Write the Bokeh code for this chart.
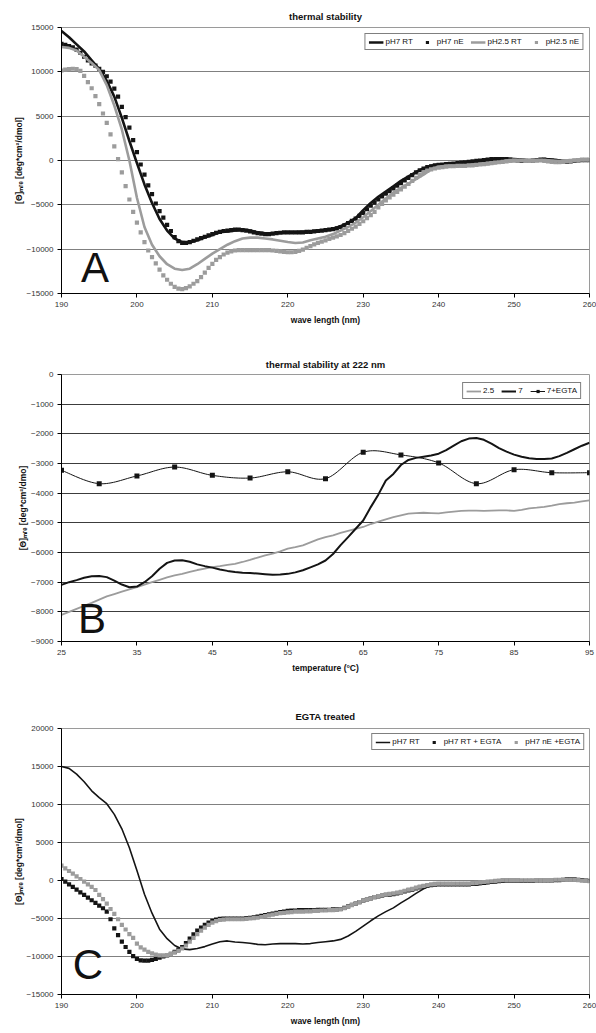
import numpy as np
from bokeh.plotting import figure
from bokeh.models import Range1d, FixedTicker, Label, Legend, LegendItem
from bokeh.layouts import column
from bokeh.embed import file_html
from bokeh.resources import INLINE

# ---------------- data ----------------
# Panel A: thermal stability (wavelength scans)
wl_1nm = list(range(190, 261))                      # 190..260 nm, 1 nm step
wl_half = [190 + 0.5 * i for i in range(141)]       # 190..260 nm, 0.5 nm step

A_pH7_RT = [
    14600, 13900, 13100, 12300, 11300, 10300, 9000, 7200, 4800, 2200,
    -300, -2700, -4800, -6600, -7900, -8800, -9200, -9250, -9000, -8700,
    -8400, -8100, -8000, -7900, -7800, -7900, -8100, -8200, -8200, -8150,
    -8100, -8100, -8050, -8000, -7900, -7850, -7700, -7400, -7000, -6500,
    -5600, -4800, -4100, -3500, -2900, -2300, -1800, -1300, -900, -600,
    -450, -400, -350, -300, -200, -100, 0, 100, 150, 200,
    150, 100, 0, 100, 150, 100, 0, -100, 0, 100,
    100]
A_pH7_nE = [
    13150, 13050, 12900, 12750, 12500, 12150, 11700, 11300, 10950, 10700,
    10350, 10000, 9500, 8900, 8100, 7200, 6050, 4900, 3700, 2300,
    950, -450, -1600, -2800, -3800, -4850, -5700, -6450, -7250, -7950,
    -8650, -9100, -9300, -9300, -9200, -9050, -8900, -8750, -8600, -8450,
    -8300, -8150, -8050, -7950, -7900, -7850, -7800, -7800, -7850, -7900,
    -8000, -8100, -8200, -8250, -8300, -8300, -8250, -8200, -8150, -8100,
    -8100, -8100, -8100, -8100, -8100, -8050, -8050, -8000, -7950, -7900,
    -7850, -7800, -7750, -7650, -7500, -7300, -7050, -6800, -6550, -6250,
    -5900, -5500, -5100, -4750, -4400, -4050, -3750, -3450, -3150, -2850,
    -2550, -2250, -1950, -1650, -1350, -1100, -900, -750, -650, -550,
    -500, -450, -400, -380, -350, -300, -250, -200, -150, -100,
    -50, 0, 50, 100, 150, 150, 150, 150, 150, 100,
    50, 0, -50, -50, -50, 0, 50, 100, 100, 50,
    0, -50, -100, -150, -150, -100, -50, 0, 50, 50,
    50]
A_pH25_RT = [
    12800, 12700, 12400, 11700, 11000, 10200, 8500, 6200, 3500, 0,
    -4200, -7500, -9500, -10800, -11700, -12200, -12350, -12200, -11700, -11100,
    -10500, -10000, -9500, -9100, -8800, -8700, -8700, -8800, -8900, -9050,
    -9200, -9300, -9250, -9000, -8800, -8600, -8300, -7900, -7500, -7000,
    -6400, -5700, -5000, -4300, -3600, -3100, -2600, -2100, -1600, -1000,
    -700, -600, -600, -600, -550, -500, -450, -350, -200, 0,
    50, 0, -50, 0, 50, 0, -50, 0, 50, 100,
    100]
A_pH25_nE = [
    10150, 10250, 10300, 10350, 10300, 10100, 9550, 8850, 8150, 7250,
    6350, 5300, 4250, 2950, 1600, 150, -1350, -2900, -4400, -5800,
    -7000, -8100, -9200, -10150, -10900, -11600, -12300, -12950, -13450, -13900,
    -14250, -14450, -14500, -14400, -14200, -13900, -13600, -13150, -12650, -12100,
    -11650, -11200, -10900, -10600, -10400, -10250, -10150, -10100, -10100, -10100,
    -10100, -10100, -10100, -10100, -10100, -10100, -10150, -10200, -10250, -10300,
    -10350, -10350, -10300, -10200, -10050, -9850, -9650, -9450, -9300, -9150,
    -9000, -8850, -8700, -8550, -8400, -8200, -7950, -7700, -7450, -7150,
    -6850, -6500, -6150, -5800, -5300, -4900, -4500, -4150, -3850, -3550,
    -3250, -2950, -2650, -2300, -1950, -1650, -1350, -1150, -1000, -900,
    -800, -750, -700, -650, -650, -600, -600, -600, -550, -550,
    -500, -450, -400, -350, -300, -250, -200, -150, -100, -50,
    0, 0, 0, -50, -50, 0, 0, 0, -50, -100,
    -150, -200, -200, -150, -100, -50, 0, 50, 100, 100,
    100]

# Panel B: thermal stability at 222 nm
temp_1 = list(range(25, 96))
temp_5 = list(range(25, 96, 5))
B_pH25 = [
    -8100, -8000, -7900, -7800, -7700, -7590, -7480, -7400, -7320, -7240,
    -7170, -7080, -7000, -6920, -6840, -6770, -6720, -6650, -6590, -6540,
    -6490, -6460, -6420, -6380, -6320, -6250, -6170, -6100, -6040, -5960,
    -5870, -5820, -5760, -5660, -5560, -5480, -5420, -5340, -5270, -5200,
    -5140, -5040, -4960, -4880, -4810, -4750, -4690, -4670, -4660, -4670,
    -4680, -4650, -4620, -4600, -4590, -4590, -4600, -4590, -4580, -4580,
    -4600, -4560, -4510, -4490, -4460, -4420, -4370, -4340, -4320, -4280,
    -4240]
B_pH7 = [
    -7090, -7000, -6930, -6850, -6800, -6790, -6830, -6950, -7080, -7170,
    -7150, -7000, -6800, -6550, -6350, -6270, -6260, -6310, -6400, -6460,
    -6510, -6570, -6620, -6660, -6680, -6690, -6710, -6730, -6750, -6740,
    -6720, -6670, -6600, -6500, -6400, -6270, -6050, -5750, -5480, -5200,
    -4920, -4470, -4050, -3570, -3350, -3050, -2880, -2810, -2770, -2730,
    -2670, -2550, -2400, -2250, -2160, -2140, -2200, -2330, -2480, -2600,
    -2700, -2770, -2820, -2850, -2850, -2830, -2750, -2640, -2520, -2400,
    -2300]
B_pH7_EGTA = [-3230, -3680, -3420, -3120, -3400, -3490, -3280, -3510,
              -2620, -2710, -2980, -3680, -3210, -3310, -3310]

# Panel C: EGTA treated
C_pH7_RT = [
    15000, 14750, 14000, 13000, 11800, 10900, 10100, 8700, 6800, 4300,
    1300, -1800, -4300, -6400, -7650, -8550, -9000, -9100, -8950, -8700,
    -8350, -8050, -7950, -8100, -8150, -8250, -8400, -8450, -8350, -8300,
    -8300, -8300, -8350, -8300, -8150, -8050, -7950, -7750, -7300, -6700,
    -6000, -5300, -4650, -4100, -3600, -2950, -2350, -1700, -1100, -650,
    -450, -450, -500, -550, -600, -600, -450, -300, -200, -150,
    -150, -150, -100, -100, -50, 0, 100, 200, 200, 150,
    0]
C_pH7_RT_EGTA = [
    200, -150, -500, -850, -1200, -1550, -1900, -2250, -2600, -2950,
    -3300, -3650, -4100, -5100, -6300, -7200, -8050, -8750, -9400, -9950,
    -10300, -10500, -10550, -10550, -10450, -10300, -10150, -10000, -9850, -9650,
    -9400, -9100, -8750, -8250, -7650, -7100, -6600, -6200, -5850, -5550,
    -5300, -5150, -5050, -5000, -5000, -5000, -5000, -5000, -5000, -4950,
    -4900, -4850, -4750, -4650, -4550, -4450, -4350, -4250, -4150, -4100,
    -4000, -3950, -3950, -3900, -3900, -3900, -3900, -3900, -3850, -3850,
    -3850, -3850, -3800, -3800, -3750, -3600, -3400, -3200, -3050, -2850,
    -2650, -2500, -2350, -2200, -2100, -2000, -1900, -1850, -1800, -1700,
    -1550, -1450, -1300, -1200, -1050, -900, -800, -700, -600, -550,
    -500, -500, -500, -500, -500, -500, -500, -500, -500, -450,
    -400, -350, -300, -250, -200, -150, -100, -50, 0, 0,
    0, 0, -50, -50, -50, -50, 0, 0, 0, 0,
    0, 50, 50, 100, 150, 150, 150, 100, 50, 0,
    -50]
C_pH7_nE_EGTA = [
    1950, 1600, 1250, 900, 550, 200, -150, -500, -850, -1250,
    -1900, -2450, -3050, -3750, -4400, -5100, -5850, -6450, -7050, -7550,
    -8300, -8800, -9100, -9400, -9600, -9750, -9850, -9850, -9800, -9700,
    -9500, -9250, -8950, -8550, -8050, -7550, -7050, -6600, -6200, -5850,
    -5550, -5350, -5200, -5150, -5100, -5100, -5100, -5100, -5100, -5050,
    -5000, -4950, -4900, -4800, -4700, -4600, -4500, -4400, -4300, -4250,
    -4200, -4150, -4100, -4100, -4100, -4050, -4050, -4000, -4000, -3950,
    -3950, -3900, -3900, -3850, -3800, -3650, -3450, -3250, -3050, -2850,
    -2650, -2500, -2350, -2200, -2050, -1950, -1850, -1750, -1700, -1600,
    -1500, -1350, -1200, -1100, -950, -800, -700, -600, -500, -450,
    -400, -400, -400, -400, -400, -400, -400, -400, -400, -350,
    -300, -250, -200, -150, -100, -50, 0, 50, 50, 50,
    50, 50, 0, 0, 0, 0, 50, 50, 50, 50,
    50, 100, 100, 100, 100, 100, 100, 50, 0, -50,
    -100]

wl_ticks = [190, 200, 210, 220, 230, 240, 250, 260]
A_yticks = [-15000, -10000, -5000, 0, 5000, 10000, 15000]
B_xticks = [25, 35, 45, 55, 65, 75, 85, 95]
B_yticks = [-9000, -8000, -7000, -6000, -5000, -4000, -3000, -2000, -1000, 0]
C_yticks = [-15000, -10000, -5000, 0, 5000, 10000, 15000, 20000]

# ---------------- styling ----------------
FONT = "Liberation Sans"
BLACK = "#141414"
GRAY = "#9c9c9c"
YLAB = "[\u0398]\u2098\u1d63\u2091 [deg*cm\u00b2/dmol]"


def smooth(xs, ys, n=16):
    """Catmull-Rom curve through the data points (Excel 'smoothed line')."""
    xs = np.asarray(xs, float)
    ys = np.asarray(ys, float)
    ox, oy = [], []
    m = len(xs)
    for i in range(m - 1):
        i0, i3 = max(i - 1, 0), min(i + 2, m - 1)
        for k in range(n):
            t = k / n
            t2, t3 = t * t, t * t * t
            c0 = -0.5 * t3 + t2 - 0.5 * t
            c1 = 1.5 * t3 - 2.5 * t2 + 1
            c2 = -1.5 * t3 + 2 * t2 + 0.5 * t
            c3 = 0.5 * t3 - 0.5 * t2
            ox.append(c0 * xs[i0] + c1 * xs[i] + c2 * xs[i + 1] + c3 * xs[i3])
            oy.append(c0 * ys[i0] + c1 * ys[i] + c2 * ys[i + 1] + c3 * ys[i3])
    ox.append(xs[-1])
    oy.append(ys[-1])
    return ox, oy


def make_fig(title, h, bl, bt, bb, xr, yr, xt, yt, xlabel, ylabel, grid_color, tstand):
    p = figure(width=596, height=h, output_backend="svg", toolbar_location=None,
               x_range=Range1d(*xr), y_range=Range1d(*yr),
               min_border_left=bl, min_border_right=7,
               min_border_top=bt, min_border_bottom=bb)
    p.title.text = title
    p.title.align = "center"
    p.title.text_font = FONT
    p.title.text_font_size = "9.5px"
    p.title.text_font_style = "bold"
    p.title.text_color = "#111111"
    p.title.standoff = tstand
    p.xaxis.ticker = FixedTicker(ticks=xt)
    p.yaxis.ticker = FixedTicker(ticks=yt)
    p.ygrid.ticker = FixedTicker(ticks=yt)
    p.xgrid.visible = False
    p.ygrid.grid_line_color = grid_color
    p.ygrid.grid_line_width = 1
    for ax in p.axis:
        ax.axis_line_color = "#000000"
        ax.axis_line_width = 1
        ax.major_tick_line_color = "#000000"
        ax.major_tick_out = 4
        ax.major_tick_in = 0
        ax.minor_tick_out = 0
        ax.minor_tick_in = 0
        ax.major_label_text_font = FONT
        ax.major_label_text_font_size = "8px"
        ax.major_label_text_color = "#333333"
        ax.major_label_standoff = 4
        ax.axis_label_text_font = FONT
        ax.axis_label_text_font_size = "8.5px"
        ax.axis_label_text_font_style = "bold"
        ax.axis_label_text_color = "#111111"
        ax.axis_label_standoff = 5
    p.xaxis.axis_label = xlabel
    p.yaxis.axis_label = ylabel
    p.yaxis.axis_label_standoff = 0
    p.outline_line_color = "#9a9a9a"
    p.outline_line_width = 1
    p.background_fill_color = "white"
    p.border_fill_color = "white"
    return p


def make_legend(items, margin):
    lg = Legend(items=items, orientation="horizontal", location="top_right")
    lg.label_text_font = FONT
    lg.label_text_font_size = "8px"
    lg.label_text_color = "#111111"
    lg.glyph_width = 15
    lg.glyph_height = 8
    lg.label_standoff = 2
    lg.label_height = 8
    lg.label_width = 1
    lg.spacing = 7
    lg.padding = 3
    lg.margin = margin
    lg.border_line_color = "#000000"
    lg.border_line_width = 1
    lg.background_fill_color = "white"
    lg.background_fill_alpha = 1
    return lg


def letter(p, x, y, t):
    p.add_layout(Label(x=x, y=y, text=t, text_font=FONT, text_font_size="42px",
                       text_color="#111111", text_baseline="middle"))


# ---------------- panel A ----------------
pA = make_fig("thermal stability", 333, 61, 27, 40, (190, 260), (-15000, 15000),
              wl_ticks, A_yticks, "wave length (nm)", YLAB, "#808080", 11)
rA1 = pA.line(wl_1nm, A_pH7_RT, line_color=BLACK, line_width=2.6, line_join="round")
rA2 = pA.scatter(wl_half, A_pH7_nE, marker="square", size=4.2, fill_color=BLACK, line_color=None)
rA3 = pA.line(wl_1nm, A_pH25_RT, line_color=GRAY, line_width=2.6, line_join="round")
rA4 = pA.scatter(wl_half, A_pH25_nE, marker="square", size=4.2, fill_color=GRAY, line_color=None)
letter(pA, 192.6, -12070, "A")
pA.add_layout(make_legend([LegendItem(label="pH7 RT", renderers=[rA1]),
                           LegendItem(label="pH7 nE", renderers=[rA2]),
                           LegendItem(label="pH2.5 RT", renderers=[rA3]),
                           LegendItem(label="pH2.5 nE", renderers=[rA4])], 6))

# ---------------- panel B ----------------
pB = make_fig("thermal stability at 222 nm", 347, 55, 41, 39, (25, 95), (-9000, 0),
              B_xticks, B_yticks, "temperature (\u00b0C)",
              "[\u0398]\u2098\u1d63\u2091 [deg*cm\u00b2/dmo]", "#3c3c3c", 10)
rB1 = pB.line(temp_1, B_pH25, line_color=GRAY, line_width=1.8, line_join="round")
rB2 = pB.line(temp_1, B_pH7, line_color=BLACK, line_width=2.0, line_join="round")
sx, sy = smooth(temp_5, B_pH7_EGTA)
rB3 = pB.line(sx, sy, line_color=BLACK, line_width=1.0)
rB4 = pB.scatter(temp_5, B_pH7_EGTA, marker="square", size=5, fill_color=BLACK, line_color=None)
letter(pB, 27.2, -8240, "B")
pB.add_layout(make_legend([LegendItem(label="2.5", renderers=[rB1]),
                           LegendItem(label="7", renderers=[rB2]),
                           LegendItem(label="7+EGTA", renderers=[rB3, rB4])], 8))

# ---------------- panel C ----------------
pC = make_fig("EGTA treated", 353, 59, 48, 39, (190, 260), (-15000, 20000),
              wl_ticks, C_yticks, "wave length (nm)", YLAB, "#808080", 13)
rC1 = pC.line(wl_1nm, C_pH7_RT, line_color=BLACK, line_width=1.6, line_join="round")
rC2 = pC.scatter(wl_half, C_pH7_RT_EGTA, marker="square", size=4.2, fill_color=BLACK, line_color=None)
rC3 = pC.scatter(wl_half, C_pH7_nE_EGTA, marker="square", size=4.2, fill_color=GRAY, line_color=None)
letter(pC, 191.5, -10990, "C")
pC.add_layout(make_legend([LegendItem(label="pH7 RT", renderers=[rC1]),
                           LegendItem(label="pH7 RT + EGTA", renderers=[rC2]),
                           LegendItem(label="pH7 nE +EGTA", renderers=[rC3])], 5))

layout = column(pA, pB, pC, spacing=0)
open("out.html", "w").write(file_html(layout, INLINE))
